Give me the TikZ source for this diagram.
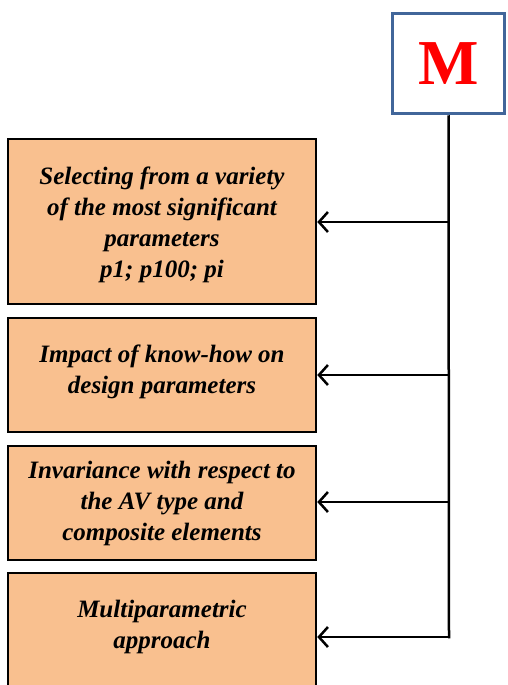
\documentclass[tikz,border=0pt]{standalone}
\usepackage{fontspec}
\setmainfont{Liberation Serif}
\usetikzlibrary{arrows.meta,fit}
\definecolor{peach}{HTML}{F9C08F}
\definecolor{frameblue}{HTML}{41669A}
\definecolor{mred}{HTML}{FF0000}
\tikzset{
  stagebox/.style={draw=black, line width=2.5pt, fill=peach, inner sep=0pt},
  stagetext/.style={align=center, font=\fontsize{25}{31}\selectfont\bfseries\itshape, inner sep=0pt},
  headbox/.style={draw=frameblue, line width=3.5pt, fill=white, minimum width=112pt, minimum height=100pt, inner sep=0pt},
  trunk/.style={line width=2.5pt, black},
  feed/.style={line width=2.5pt, black, -{Straight Barb[length=9pt,width=20pt,line width=2.5pt]}}
}
\begin{document}
\begin{tikzpicture}[x=1pt,y=-1pt]
  \useasboundingbox (0,0) rectangle (507,685);
  \clip (0,0) rectangle (507,685);
  \fill[white] (0,0) rectangle (507,685);

  % head block
  \node[headbox] (M) at (448.5,63.5) {\textcolor{mred}{\fontsize{64}{64}\selectfont\bfseries M}};

  % stage boxes
  \node[stagebox, fit={(8,139) (316,304)}] (b1) {};
  \node[stagebox, fit={(8,318) (316,432)}] (b2) {};
  \node[stagebox, fit={(8,446) (316,560)}] (b3) {};
  \node[stagebox, fit={(8,573) (316,720)}] (b4) {};

  \node[stagetext] (t1) at (162,225) {Selecting from a variety\\of the most significant\\parameters\\p1; p100; pi};
  \node[stagetext] (t2) at (162,372) {Impact of know-how on\\design parameters};
  \node[stagetext] (t3) at (162,503) {Invariance with respect to\\the AV type and\\composite elements};
  \node[stagetext] (t4) at (162,627) {Multiparametric\\approach};

  % trunk junctions
  \coordinate (j1) at (449,222);
  \coordinate (j2) at (449,375);
  \coordinate (j3) at (449,502);
  \coordinate (j4) at (449,637);

  \draw[trunk, line join=miter] (M.south) -- (j4) -- ++(-1,0);
  \draw[feed] (j1) -- (b1.east |- j1);
  \draw[feed] (j2) -- (b2.east |- j2);
  \draw[feed] (j3) -- (b3.east |- j3);
  \draw[feed] (j4) -- (b4.east |- j4);
\end{tikzpicture}
\end{document}
